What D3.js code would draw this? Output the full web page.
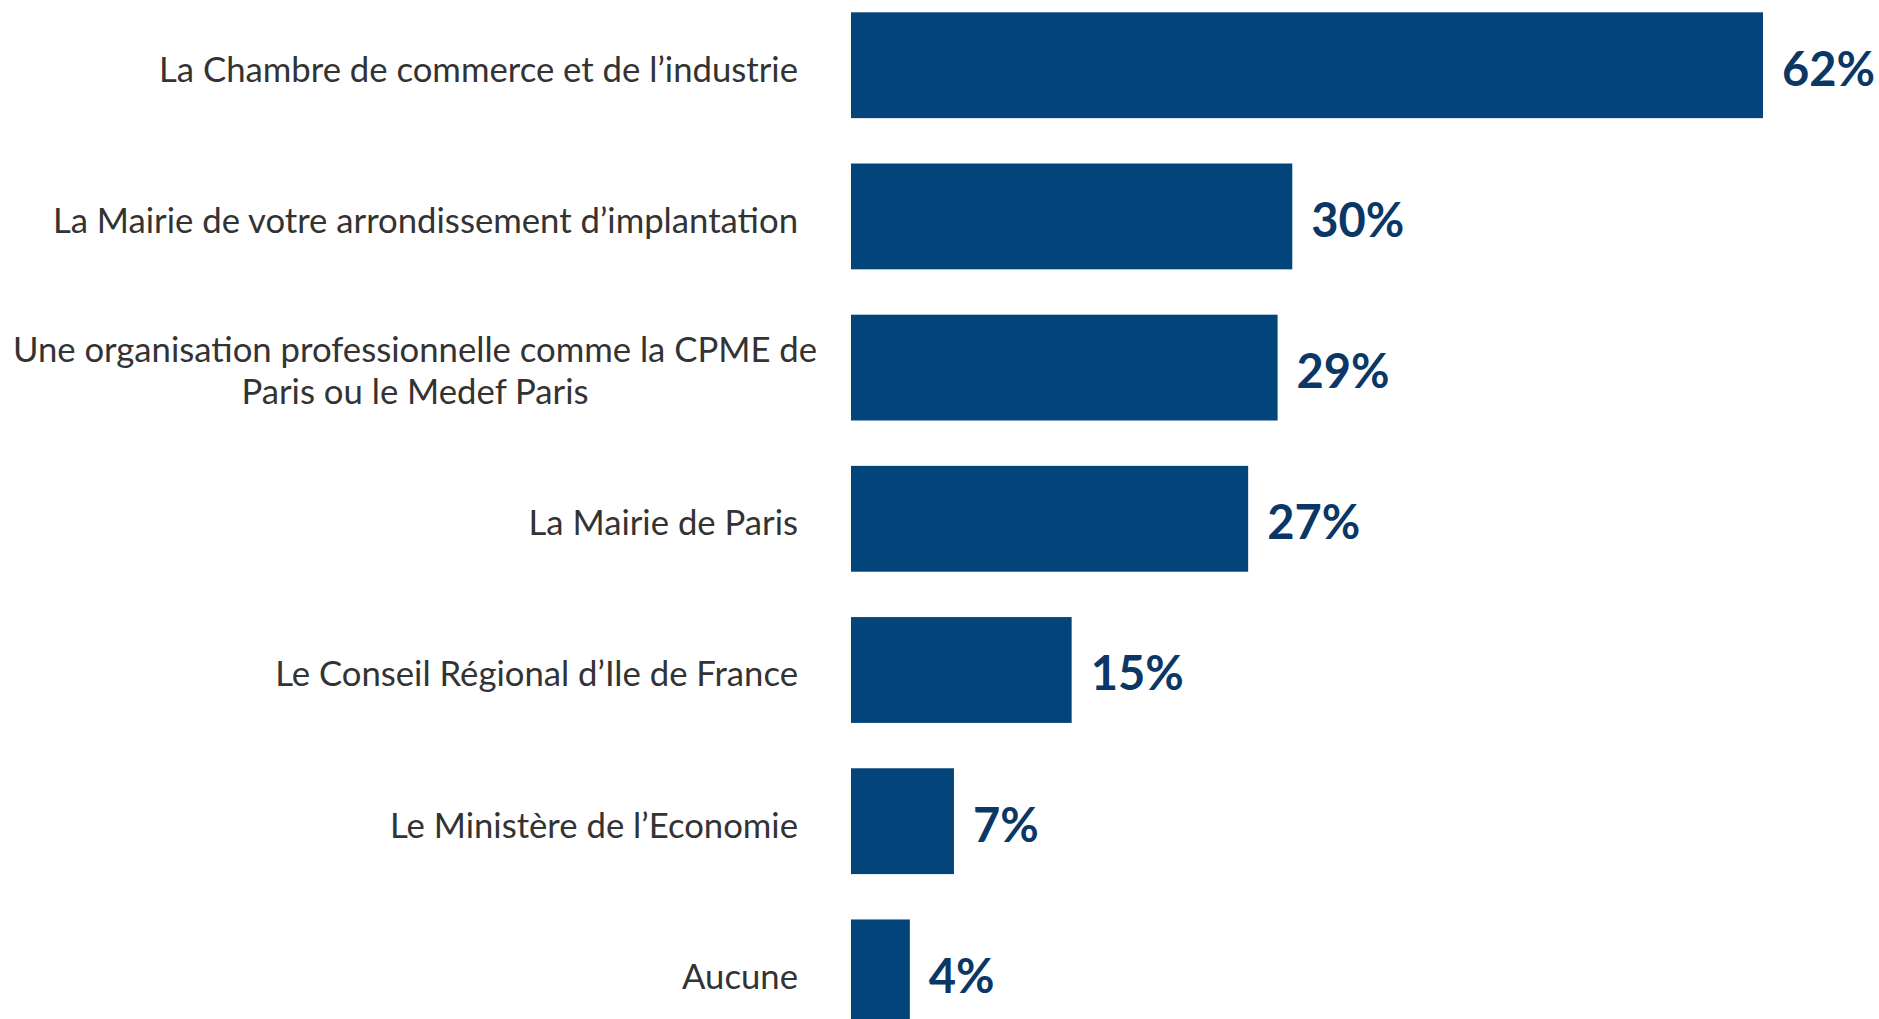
<!DOCTYPE html>
<html><head><meta charset="utf-8">
<script src="https://cdn.jsdelivr.net/npm/d3@7"></script>
<style>body{margin:0;background:#fff;}svg{display:block;}</style>
</head><body>
<svg id="chart" width="1879" height="1019"></svg>
<script>
const categories = [
  ["La Chambre de commerce et de l\u2019industrie"],
  ["La Mairie de votre arrondissement d\u2019implantation"],
  ["Une organisation professionnelle comme la CPME de", "Paris ou le Medef Paris"],
  ["La Mairie de Paris"],
  ["Le Conseil R\u00e9gional d\u2019Ile de France"],
  ["Le Minist\u00e8re de l\u2019Economie"],
  ["Aucune"]
];
const values = [62, 30, 29, 27, 15, 7, 4];
const valueLabels = ["62%", "30%", "29%", "27%", "15%", "7%", "4%"];

const svg = d3.select("#chart");
const x0 = 851;
const x = d3.scaleLinear().domain([0, 62]).range([x0, 1763]);
const y = d3.scaleBand().domain(d3.range(values.length)).range([12.3, 1025.3]).paddingInner(0.3).paddingOuter(0);

const barColor = "#03457A";
const valColor = "#0B3766";

svg.selectAll("rect.bar").data(values).join("rect")
  .attr("class", "bar")
  .attr("x", x(0))
  .attr("y", (d, i) => y(i))
  .attr("width", d => x(d) - x(0))
  .attr("height", y.bandwidth())
  .attr("fill", barColor);

svg.selectAll("text.val").data(values).join("text")
  .attr("class", "val")
  .attr("x", d => x(d) + 19)
  .attr("y", (d, i) => y(i) + y.bandwidth() / 2 + 20.5)
  .attr("font-family", "Lato, 'Open Sans', sans-serif")
  .attr("font-weight", "bold")
  .attr("font-size", 47)
  .attr("fill", valColor)
  .text((d, i) => valueLabels[i]);

const lab = svg.selectAll("text.cat").data(categories).join("text")
  .attr("class", "cat")
  .attr("font-family", "Lato, 'Open Sans', sans-serif")
  .attr("font-size", 34.7)
  .attr("fill", "#333333")
  .attr("text-anchor", d => d.length > 1 ? "middle" : "end")
  .attr("x", d => d.length > 1 ? 415 : 798)
  .attr("y", (d, i) => y(i) + y.bandwidth() / 2 + (d.length > 1 ? -6 : 16.5));
lab.selectAll("tspan").data(d => d).join("tspan")
  .attr("x", function() { return this.parentNode.getAttribute("x"); })
  .attr("dy", (d, j) => j === 0 ? 0 : 42)
  .text(d => d);
</script>
</body></html>
